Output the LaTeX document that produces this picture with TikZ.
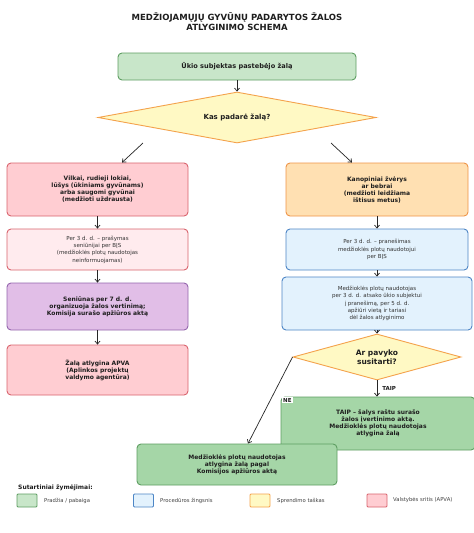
\documentclass[tikz,border=0pt]{standalone}
\usepackage{fontspec}
\setmainfont{DejaVu Sans}
\usetikzlibrary{arrows.meta,shapes.geometric,calc}
\definecolor{gfill}{HTML}{C8E6C9}\definecolor{gdraw}{HTML}{5E9E62}
\definecolor{g2fill}{HTML}{A5D6A7}
\definecolor{yfill}{HTML}{FFF9C4}\definecolor{ydraw}{HTML}{F4A24C}
\definecolor{pfill}{HTML}{FFCDD2}\definecolor{pdraw}{HTML}{D9646E}
\definecolor{lpfill}{HTML}{FFEBEE}
\definecolor{vfill}{HTML}{E1BEE7}\definecolor{vdraw}{HTML}{9466AE}
\definecolor{ofill}{HTML}{FFE0B2}\definecolor{odraw}{HTML}{EE9448}
\definecolor{bfill}{HTML}{E3F2FD}\definecolor{bdraw}{HTML}{4D86C6}
\definecolor{txt}{HTML}{1E1E1E}
\tikzset{
  box/.style={draw, line width=0.9pt, rounded corners=4pt, inner sep=0pt, align=center, text=txt},
  bb/.style={box, font=\fontsize{6}{7}\selectfont\bfseries},
  nb/.style={box, font=\fontsize{5.5}{7.3}\selectfont, text=black!80},
  dia/.style={diamond, draw=ydraw, fill=yfill, line width=0.9pt, inner sep=0pt, align=center, text=txt},
  arr/.style={-{Straight Barb[length=3pt,width=5pt]}, line width=0.7pt, black!85},
  lab/.style={font=\fontsize{5.5}{6}\selectfont\bfseries, text=txt, inner sep=1pt},
  sw/.style={draw, line width=0.8pt, rounded corners=1pt, minimum width=20pt, minimum height=13pt, inner sep=0pt},
  lt/.style={font=\fontsize{5.3}{6}\selectfont, text=black!75, anchor=west, inner sep=0pt}
}
\begin{document}
\begin{tikzpicture}[x=1pt,y=-1pt]
\clip (0,0) rectangle (474,533);
\fill[white] (0,0) rectangle (474,533);
\node[font=\fontsize{8.5}{10}\selectfont\bfseries, align=center, text=txt] (title) at (237,22) {MEDŽIOJAMŲJŲ GYVŪNŲ PADARYTOS ŽALOS\\ATLYGINIMO SCHEMA};
\node[bb, draw=gdraw, fill=gfill, minimum width=238pt, minimum height=27pt, font=\fontsize{6.6}{8}\selectfont\bfseries] (start) at (237,66.5) {Ūkio subjektas pastebėjo žalą};
\node[dia, aspect=5.45, minimum width=278pt, minimum height=51pt, font=\fontsize{7}{8}\selectfont\bfseries] (d1) at (237,117.5) {Kas padarė žalą?};
% left column
\node[bb, draw=pdraw, fill=pfill, minimum width=181pt, minimum height=53pt] (l1) at (97.5,189.5) {Vilkai, rudieji lokiai,\\lūšys (ūkiniams gyvūnams)\\arba saugomi gyvūnai\\(medžioti uždrausta)};
\node[nb, draw=pdraw, fill=lpfill, minimum width=181pt, minimum height=41pt] (l2) at (97.5,249.5) {Per 3 d. d. – prašymas\\seniūnijai per BĮS\\(medžioklės plotų naudotojas\\neinformuojamas)};
\node[bb, draw=vdraw, fill=vfill, minimum width=181pt, minimum height=47pt] (l3) at (97.5,306.5) {Seniūnas per 7 d. d.\\organizuoja žalos vertinimą;\\Komisija surašo apžiūros aktą};
\node[bb, draw=pdraw, fill=pfill, minimum width=181pt, minimum height=50pt] (l4) at (97.5,370) {Žalą atlygina APVA\\(Aplinkos projektų\\valdymo agentūra)};
% right column
\node[bb, draw=odraw, fill=ofill, minimum width=182pt, minimum height=53pt] (r1) at (377,189.5) {Kanopiniai žvėrys\\ar bebrai\\(medžioti leidžiama\\ištisus metus)};
\node[nb, draw=bdraw, fill=bfill, minimum width=182pt, minimum height=41pt] (r2) at (377,249.5) {Per 3 d. d. – pranešimas\\medžioklės plotų naudotojui\\per BĮS};
\node[nb, draw=bdraw, fill=bfill, minimum width=190pt, minimum height=53pt] (r3) at (377,303.5) {Medžioklės plotų naudotojas\\per 3 d. d. atsako ūkio subjektui\\į pranešimą, per 5 d. d.\\apžiūri vietą ir tariasi\\dėl žalos atlyginimo};
\node[dia, aspect=3.65, minimum width=168pt, minimum height=46pt, font=\fontsize{7.5}{9}\selectfont\bfseries] (d2) at (377,357) {Ar pavyko\\susitarti?};
\node[bb, draw=gdraw, fill=g2fill, minimum width=194pt, minimum height=53pt] (r4) at (378,423.5) {TAIP – šalys raštu surašo\\žalos įvertinimo aktą.\\Medžioklės plotų naudotojas\\atlygina žalą};
\node[bb, draw=gdraw, fill=g2fill, minimum width=200pt, minimum height=41pt] (fin) at (237,464.5) {Medžioklės plotų naudotojas\\atlygina žalą pagal\\Komisijos apžiūros aktą};
% connectors
\draw[arr] (start) -- (d1);
\coordinate (d1l) at (143,143);
\coordinate (d1r) at (331,143);
\draw[arr] (d1l) -- ($(l1.north)+(24.5,0)$);
\draw[arr] (d1r) -- ($(r1.north)+(-25,0)$);
\draw[arr] (l1) -- (l2);
\draw[arr] (l2) -- (l3);
\draw[arr] (l3) -- (l4);
\draw[arr] (r1) -- (r2);
\draw[arr] (r2.south) -- (r3.north -| r2.south);
\draw[arr] (r3.south -| d2.north) -- (d2.north);
\draw[arr] (d2.south) -- (r4.north -| d2.south) node[lab, midway, right=4pt] (taip) {TAIP};
\draw[arr] (d2.west) -- ($(fin.north)+(11,0)$);
\node[lab, fill=white, anchor=north west] (ne) at (282,397) {NE};
% legend
\node[font=\fontsize{6}{7}\selectfont\bfseries, text=txt, anchor=west, inner sep=0pt] (legt) at (18,488) {Sutartiniai žymėjimai:};
\node[sw, draw=gdraw, fill=gfill] (s1) at (27,500.5) {};
\node[lt] (t1) at (44,500.5) {Pradžia / pabaiga};
\node[sw, draw=bdraw, fill=bfill] (s2) at (143.5,500.5) {};
\node[lt] (t2) at (160,500.5) {Procedūros žingsnis};
\node[sw, draw=ydraw, fill=yfill] (s3) at (260,500.5) {};
\node[lt] (t3) at (277,500.5) {Sprendimo taškas};
\node[sw, draw=pdraw, fill=pfill] (s4) at (377,500.5) {};
\node[lt] (t4) at (393,500.5) {Valstybės sritis (APVA)};
\end{tikzpicture}
\end{document}
